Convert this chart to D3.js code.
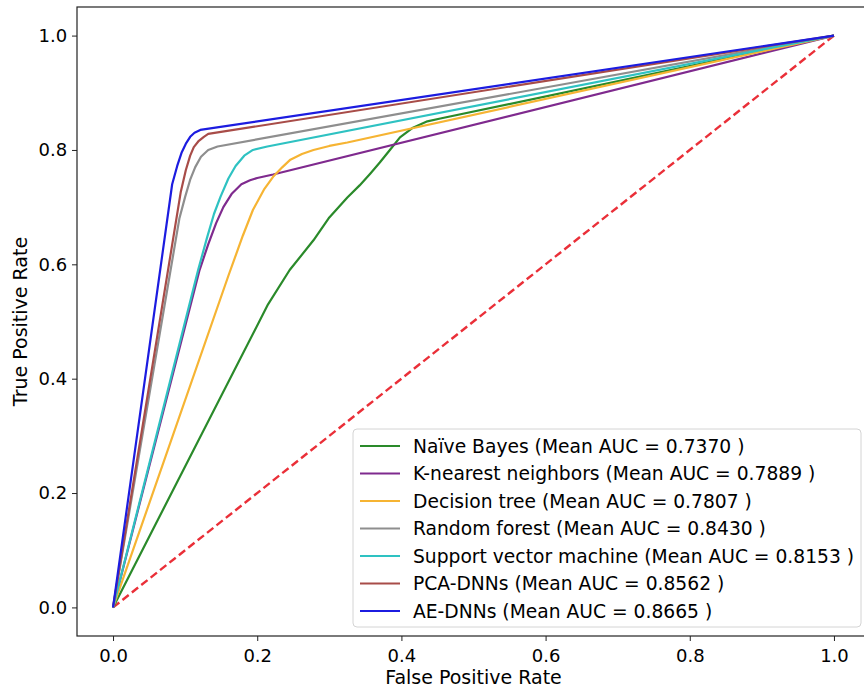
<!doctype HTML>
<html>
<head>
    <meta charset="utf-8">
    <script src="https://d3js.org/d3.v7.min.js"></script>
    <style>
        body { margin: 0; background: #fff; }
        text { font-family: "DejaVu Sans", sans-serif; fill: #000; }
    </style>
</head>
<body>
<script>

    // ROC curves (false positive rate / true positive rate)
    var models = ["Naïve Bayes", "K-nearest neighbors", "Decision tree", "Random forest",
        "Support vector machine", "PCA-DNNs", "AE-DNNs"];
    var aucs = ["0.7370", "0.7889", "0.7807", "0.8430", "0.8153", "0.8562", "0.8665"];
    var colors = ["#2a8a2a", "#7f2a8e", "#f6b433", "#8e8e8e", "#2ec2c2", "#a84c48", "#1c1ce0"];

    var nbFpr  = [0, 0.215, 0.245, 0.278, 0.30, 0.325, 0.342, 0.357, 0.370, 0.384, 0.398, 0.416, 0.436, 0.454, 1];
    var nbTpr  = [0, 0.530, 0.590, 0.642, 0.682, 0.717, 0.738, 0.759, 0.778, 0.800, 0.822, 0.839, 0.850, 0.855, 1];
    var knnFpr = [0, 0.12, 0.132, 0.143, 0.153, 0.165, 0.178, 0.19, 0.2, 0.222, 1];
    var knnTpr = [0, 0.59, 0.635, 0.672, 0.700, 0.724, 0.740, 0.747, 0.751, 0.757, 1];
    var dtFpr  = [0, 0.16, 0.18, 0.194, 0.21, 0.222, 0.235, 0.246, 0.262, 0.278, 0.30, 0.325, 1];
    var dtTpr  = [0, 0.58, 0.650, 0.695, 0.732, 0.753, 0.770, 0.783, 0.793, 0.800, 0.807, 0.813, 1];
    var rfFpr  = [0, 0.092, 0.100, 0.107, 0.114, 0.122, 0.132, 0.145, 1];
    var rfTpr  = [0, 0.68, 0.718, 0.748, 0.770, 0.788, 0.800, 0.806, 1];
    var svmFpr = [0, 0.118, 0.130, 0.140, 0.149, 0.160, 0.170, 0.182, 0.194, 0.214, 1];
    var svmTpr = [0, 0.59, 0.645, 0.688, 0.718, 0.750, 0.772, 0.790, 0.800, 0.806, 1];
    var pcaFpr = [0, 0.094, 0.101, 0.107, 0.112, 0.119, 0.126, 0.132, 1];
    var pcaTpr = [0, 0.727, 0.765, 0.790, 0.805, 0.816, 0.823, 0.828, 1];
    var aeFpr  = [0, 0.082, 0.089, 0.095, 0.101, 0.107, 0.113, 0.121, 1];
    var aeTpr  = [0, 0.740, 0.772, 0.795, 0.811, 0.823, 0.830, 0.835, 1];

    var chanceFpr = [0, 1];
    var chanceTpr = [0, 1];

    var xTicks = [0, 0.2, 0.4, 0.6, 0.8, 1.0];
    var yTicks = [0, 0.2, 0.4, 0.6, 0.8, 1.0];

    var curves = [
        [nbFpr, nbTpr], [knnFpr, knnTpr], [dtFpr, dtTpr], [rfFpr, rfTpr],
        [svmFpr, svmTpr], [pcaFpr, pcaTpr], [aeFpr, aeTpr]
    ];

    // set the dimensions and margins of the graph
    var margin = {top: 7, right: 0, bottom: 52, left: 77},
        width = 793,
        height = 629;

    var svg = d3.select("body")
        .append("svg")
        .attr("width", 864)
        .attr("height", 688)
        .append("g")
        .attr("transform", "translate(" + margin.left + "," + margin.top + ")");

    var xScale = d3.scaleLinear().domain([-0.05, 1.05]).range([0, width]);
    var yScale = d3.scaleLinear().domain([-0.05, 1.05]).range([height, 0]);

    var line = d3.line()
        .x(function(d) { return xScale(d[0]); })
        .y(function(d) { return yScale(d[1]); });

    function pairs(xs, ys) {
        return xs.map(function(x, i) { return [x, ys[i]]; });
    }

    // chance line
    svg.append("path")
        .attr("d", line(pairs(chanceFpr, chanceTpr)))
        .attr("fill", "none")
        .attr("stroke", "#ea2f38")
        .attr("stroke-width", 2.4)
        .attr("stroke-dasharray", "8,4");

    curves.forEach(function(c, i) {
        svg.append("path")
            .attr("d", line(pairs(c[0], c[1])))
            .attr("fill", "none")
            .attr("stroke", colors[i])
            .attr("stroke-width", 2.2)
            .attr("stroke-linejoin", "round");
    });

    // axes
    var xAxis = svg.append("g")
        .attr("transform", "translate(0," + height + ")")
        .call(d3.axisBottom(xScale).tickValues(xTicks).tickFormat(d3.format(".1f")).tickSize(5).tickSizeOuter(0));
    var yAxis = svg.append("g")
        .call(d3.axisLeft(yScale).tickValues(yTicks).tickFormat(d3.format(".1f")).tickSize(5).tickSizeOuter(0));

    [xAxis, yAxis].forEach(function(a) {
        a.select(".domain").remove();
        a.selectAll("line").attr("stroke", "#222").attr("stroke-width", 1);
        a.selectAll("text").attr("font-size", "18px").attr("fill", "#111");
    });
    xAxis.selectAll("text").attr("dy", "1.0em");
    yAxis.selectAll("text").attr("dx", "-0.1em");

    // frame
    svg.append("rect")
        .attr("width", width)
        .attr("height", height)
        .attr("fill", "none")
        .attr("stroke", "#222")
        .attr("stroke-width", 1.2);

    svg.append("text")
        .attr("x", xScale(0.5))
        .attr("y", height + 48)
        .attr("text-anchor", "middle")
        .attr("font-size", "19px")
        .text("False Positive Rate");

    svg.append("text")
        .attr("transform", "translate(-50," + yScale(0.5) + ") rotate(-90)")
        .attr("text-anchor", "middle")
        .attr("font-size", "19px")
        .text("True Positive Rate");

    // legend
    var legend = svg.append("g")
        .attr("transform", "translate(" + (353 - margin.left) + "," + (429 - margin.top) + ")");

    legend.append("rect")
        .attr("width", 508)
        .attr("height", 198)
        .attr("rx", 4)
        .attr("fill", "#fff")
        .attr("fill-opacity", 0.85)
        .attr("stroke", "#d4d4d4");

    models.forEach(function(m, i) {
        var y = 17 + i * 27.5;
        legend.append("line")
            .attr("x1", 7).attr("x2", 47)
            .attr("y1", y).attr("y2", y)
            .attr("stroke", colors[i])
            .attr("stroke-width", 2.2);
        legend.append("text")
            .attr("x", 60)
            .attr("y", y)
            .attr("dy", "0.36em")
            .attr("font-size", "18.7px")
            .text(m + " (Mean AUC = " + aucs[i] + " )");
    });

</script>
</body>
</html>
